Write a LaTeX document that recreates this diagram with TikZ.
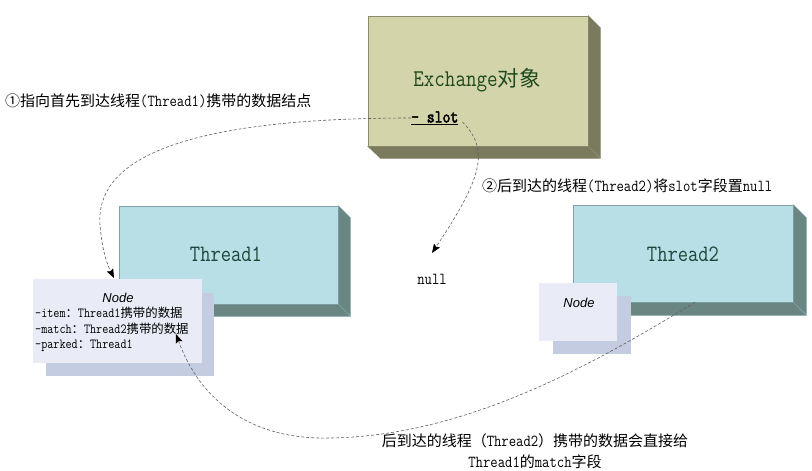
\documentclass[tikz,border=0pt]{standalone}
\usepackage{fontspec}
\usetikzlibrary{arrows.meta}
\newfontfamily\cjk{Noto Sans CJK SC}
\newfontfamily\lat[FakeStretch=0.85,Scale=1.12]{Latin Modern Mono}
\newfontfamily\latb[FakeStretch=0.85,Scale=1.12,FakeBold=2.5]{Latin Modern Mono}
\newfontfamily\sansit{Liberation Sans}
\definecolor{exfront}{HTML}{D4D4AA}
\definecolor{exside}{HTML}{7A7A5E}
\definecolor{exline}{HTML}{8C8C6C}
\definecolor{thfront}{HTML}{B8DFE6}
\definecolor{thside}{HTML}{6A8683}
\definecolor{thline}{HTML}{7FA3A8}
\definecolor{ndfront}{HTML}{E9ECF6}
\definecolor{ndback}{HTML}{C4CCE2}
\definecolor{greentxt}{HTML}{1E4A1E}
\definecolor{tealtxt}{HTML}{1D463A}
\definecolor{dashc}{HTML}{606060}
\begin{document}
\begin{tikzpicture}[x=1pt,y=-1pt,
  exbox/.style={draw=exline,fill=exfront,line width=0.6pt,inner sep=0pt,minimum width=220pt,minimum height=130pt},
  thbox/.style={draw=thline,fill=thfront,line width=0.6pt,inner sep=0pt,minimum width=219pt,minimum height=98pt},
  exsidefill/.style={fill=exside,draw=exline,line width=0.4pt},
  thsidefill/.style={fill=thside,draw=thline,line width=0.4pt},
  ndfr/.style={fill=ndfront,inner sep=0pt},
  ndbk/.style={fill=ndback,inner sep=0pt},
  lbl/.style={inner sep=0pt,font=\fontsize{15}{18}\selectfont},
  bigtxt/.style={inner sep=0pt,font=\fontsize{21}{24}\selectfont\lat},
  conn/.style={draw=dashc,line width=0.6pt,dash pattern=on 3pt off 2pt,
    -{Stealth[length=9pt,width=7pt,inset=1.5pt,color=black,fill=black]}}
]
\useasboundingbox (0,0) rectangle (812,471);
\fill[white] (0,0) rectangle (812,471);

% Exchange box
\node[exbox] (ex) at (478,81) {};
\path[exsidefill] (ex.north east) -- ++(12,12) -- ++(0,130) -- (ex.south east) -- cycle;
\path[exsidefill] (ex.south west) -- (ex.south east) -- ++(12,12) -- ++(-220,0) -- cycle;
\node[inner sep=0pt,text=greentxt,font=\fontsize{21.5}{24}\selectfont] (extitle) at (477,80) {{\lat Exchange}{\cjk 对象}};
\node[inner sep=0pt,anchor=west,font=\fontsize{16}{18}\selectfont\latb] (slot) at (411,118) {\underline{- slot}};

% Thread1 box
\node[thbox] (t1) at (228.5,255) {};
\path[thsidefill] (t1.north east) -- ++(12,12) -- ++(0,98) -- (t1.south east) -- cycle;
\path[thsidefill] (t1.south west) -- (t1.south east) -- ++(12,12) -- ++(-219,0) -- cycle;
\node[bigtxt,text=tealtxt] (t1txt) at (226,254) {Thread1};

% Thread2 box
\node[thbox,minimum width=220pt,minimum height=97pt] (t2) at (683,253.5) {};
\path[thsidefill] (t2.north east) -- ++(13,13) -- ++(0,97) -- (t2.south east) -- cycle;
\path[thsidefill] (t2.south west) -- (t2.south east) -- ++(13,13) -- ++(-220,0) -- cycle;
\node[bigtxt,text=tealtxt] (t2txt) at (683,254) {Thread2};

% Node of Thread1
\node[ndbk,minimum width=168pt,minimum height=83pt] (n1b) at (130,334.5) {};
\node[ndfr,minimum width=169pt,minimum height=84pt] (n1) at (117.5,321) {};
\node[inner sep=0pt,font=\fontsize{13}{15}\selectfont\sansit\itshape] (n1title) at (118,298) {Node};
\node[inner sep=0pt,anchor=west,align=left,font=\fontsize{12.4}{15.5}\selectfont] (n1txt) at (35,329.5)
  {{\lat -item}{\cjk ：}{\lat Thread1}{\cjk 携带的数据}\\
   {\lat -match}{\cjk ：}{\lat Thread2}{\cjk 携带的数据}\\
   {\lat -parked}{\cjk ：}{\lat Thread1}};

% Node of Thread2
\node[ndbk,minimum width=78pt,minimum height=58pt] (n2b) at (592,325) {};
\node[ndfr,minimum width=78pt,minimum height=58pt] (n2) at (578,312) {};
\node[inner sep=0pt,font=\fontsize{13}{15}\selectfont\sansit\itshape] (n2title) at (579,303) {Node};

% labels
\node[lbl,anchor=west] (lab1) at (5,101) {{\cjk ①指向首先到达线程}{\lat (Thread1)}{\cjk 携带的数据结点}};
\node[lbl,anchor=west] (lab2) at (482,186) {{\cjk ②后到达的线程}{\lat (Thread2)}{\cjk 将}{\lat slot}{\cjk 字段置}{\lat null}};
\node[lbl] (null) at (432,279) {\lat null};
\node[lbl] (lab3) at (535,441) {{\cjk 后到达的线程（}{\lat Thread2}{\cjk ）携带的数据会直接给}};
\node[lbl] (lab4) at (535,462) {{\lat Thread1}{\cjk 的}{\lat match}{\cjk 字段}};

% connectors
\coordinate (tip1) at (114,278);
\coordinate (tip2) at (432,253);
\coordinate (tip3) at (176,334);
\draw[conn] (slot.west) .. controls (180,118) and (95,160) .. (100,225)
   .. controls (102,250) and (107,264) .. (tip1);
\draw[conn] ([xshift=4pt,yshift=-4pt]slot.east) .. controls (490,150) and (482,178) .. (tip2);
\draw[conn] ([xshift=12pt]t2.south) .. controls (600,360) and (470,436) .. (330,438)
   .. controls (250,440) and (200,400) .. (tip3);
\end{tikzpicture}
\end{document}
